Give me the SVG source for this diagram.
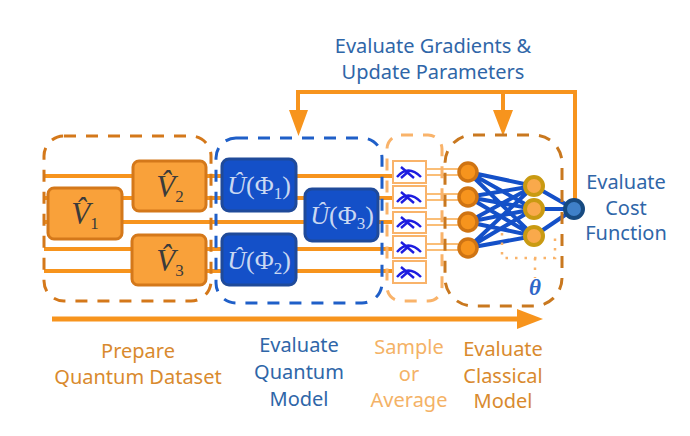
<svg xmlns="http://www.w3.org/2000/svg" width="690" height="436" viewBox="0 0 690 436">
<style>
text{font-family:"Noto Sans","Open Sans",sans-serif;font-size:20px;text-anchor:middle}
.lb{fill:#2f66a8}
.lo{fill:#d98a2e}
.ly{fill:#f4b266}
.math{font-family:"Liberation Serif",serif}
.m1{fill:#3b3b3b;font-size:31px}
.m2{fill:#c9d8f2;font-size:26px}
.sub{font-size:17px}
.wire{stroke:#f7941d;stroke-width:4;fill:none}
.wt{stroke:#f9a94b;stroke-width:1.6;fill:none}
.fb{stroke:#f7941d;stroke-width:4;fill:none}
.head{fill:#f7941d}
.dash{fill:none;stroke-width:3;stroke-dasharray:12 10}
.v{fill:#f9a13a;stroke:#d4781a;stroke-width:3}
.u{fill:#1450c8;stroke:#1f4a9a;stroke-width:3}
.ms{fill:#fff;stroke:#f9b36a;stroke-width:2}
.sym{fill:none;stroke:#1c1ce0;stroke-width:2.4}
.edge{stroke:#1450c8;stroke-width:4}
.c1{fill:#f7941d;stroke:#cf7413;stroke-width:3.5}
.c2{fill:#f9a94b;stroke:#c99a12;stroke-width:4}
.c3{fill:#3f80c8;stroke:#174a80;stroke-width:4}
.dot{fill:none;stroke:#f9b36a;stroke-width:2.5;stroke-dasharray:2.500 7}
</style>
<defs>
<g id="mm"><path class="sym" d="M-12 5Q-1-8 12 5M-8-5L5 6M-8 6L0-1"/></g>
</defs>
<g id="connectors">
<path class="wire" d="M44 176H206M44 198H296M44 222H393M44 249H393M44 271H393M206 176H393M296 198H393"/>
<path class="wt" d="M426 169H458M426 175H458M426 194H458M426 200H458M426 219H458M426 225H458M426 244H458M426 250H458"/>
<path class="edge" d="M468 172L534 186M468 172L534 209M468 172L534 236M468 197L534 186M468 197L534 209M468 197L534 236M468 222L534 186M468 222L534 209M468 222L534 236M468 248L534 186M468 248L534 209M468 248L534 236M534 186L574 209M534 209L574 209M534 236L574 209"/>
<path class="dot" d="M502 233V258H555V235M535 258V278"/>
<path class="fb" d="M298 111V92H575V200M503 92V111"/>
<path class="head" d="M289 110H308L298.500 136ZM493 110H513L503 136Z"/>
<path class="wire" style="stroke-width:5" d="M52 319H522"/>
<path class="head" d="M517 309L543 319L517 329Z"/>
</g>
<g id="group-dataset"><rect class="dash" x="44" y="136" width="167" height="165" rx="20" stroke="#d4781a"/></g>
<g id="group-quantum"><rect class="dash" x="216" y="138" width="166" height="165" rx="20" stroke="#1f5fc8"/></g>
<g id="group-sample"><rect class="dash" x="387" y="135" width="55" height="166" rx="14" stroke="#f9b36a"/></g>
<g id="group-classical"><rect class="dash" x="445" y="135" width="117" height="171" rx="28" stroke="#c9781f"/></g>
<g id="v1"><rect class="v" x="48" y="188" width="74" height="51" rx="6"/><text class="math m1" x="85" y="224"><tspan font-style="italic">V̂</tspan><tspan class="sub" dy="5">1</tspan></text></g>
<g id="v2"><rect class="v" x="133" y="161" width="73" height="50" rx="6"/><text class="math m1" x="170" y="197"><tspan font-style="italic">V̂</tspan><tspan class="sub" dy="5">2</tspan></text></g>
<g id="v3"><rect class="v" x="132" y="235" width="74" height="50" rx="6"/><text class="math m1" x="170" y="271"><tspan font-style="italic">V̂</tspan><tspan class="sub" dy="5">3</tspan></text></g>
<g id="u1"><rect class="u" x="222" y="159" width="74" height="52" rx="7"/><text class="math m2" x="259" y="194"><tspan font-style="italic">Û</tspan>(Φ<tspan class="sub" dy="5">1</tspan><tspan dy="-5">)</tspan></text></g>
<g id="u2"><rect class="u" x="222" y="234" width="74" height="51" rx="7"/><text class="math m2" x="259" y="269"><tspan font-style="italic">Û</tspan>(Φ<tspan class="sub" dy="5">2</tspan><tspan dy="-5">)</tspan></text></g>
<g id="u3"><rect class="u" x="305" y="189" width="73" height="52" rx="7"/><text class="math m2" x="342" y="224"><tspan font-style="italic">Û</tspan>(Φ<tspan class="sub" dy="5">3</tspan><tspan dy="-5">)</tspan></text></g>
<g id="m1"><rect class="ms" x="393" y="161" width="33" height="22"/><use href="#mm" x="409" y="172"/></g>
<g id="m2"><rect class="ms" x="393" y="186" width="33" height="22"/><use href="#mm" x="409" y="197"/></g>
<g id="m3"><rect class="ms" x="393" y="212" width="33" height="21"/><use href="#mm" x="409" y="222"/></g>
<g id="m4"><rect class="ms" x="393" y="236" width="33" height="22"/><use href="#mm" x="409" y="247"/></g>
<g id="m5"><rect class="ms" x="393" y="261" width="33" height="22"/><use href="#mm" x="409" y="272"/></g>
<g id="n1"><circle class="c1" cx="468" cy="172" r="9"/></g>
<g id="n2"><circle class="c1" cx="468" cy="197" r="9"/></g>
<g id="n3"><circle class="c1" cx="468" cy="222" r="9"/></g>
<g id="n4"><circle class="c1" cx="468" cy="248" r="9"/></g>
<g id="h1"><circle class="c2" cx="534" cy="186" r="9"/></g>
<g id="h2"><circle class="c2" cx="534" cy="209" r="9"/></g>
<g id="h3"><circle class="c2" cx="534" cy="236" r="9"/></g>
<g id="out"><circle class="c3" cx="574" cy="209" r="9"/></g>
<g id="labels">
<text class="math" x="535" y="295" font-style="italic" font-weight="bold" style="fill:#2f66c8;font-size:23px">θ</text>
<text class="lb" x="433" y="53">Evaluate Gradients &amp;</text>
<text class="lb" x="433" y="79">Update Parameters</text>
<text class="lb" x="626" y="189">Evaluate</text>
<text class="lb" x="626" y="215">Cost</text>
<text class="lb" x="626" y="240">Function</text>
<text class="lo" x="138" y="358">Prepare</text>
<text class="lo" x="138" y="384">Quantum Dataset</text>
<text class="lb" x="299" y="352">Evaluate</text>
<text class="lb" x="299" y="379">Quantum</text>
<text class="lb" x="299" y="406">Model</text>
<text class="ly" x="409" y="354">Sample</text>
<text class="ly" x="409" y="381">or</text>
<text class="ly" x="409" y="407">Average</text>
<text class="lo" x="503" y="356">Evaluate</text>
<text class="lo" x="503" y="383">Classical</text>
<text class="lo" x="503" y="408">Model</text>
</g>
</svg>
